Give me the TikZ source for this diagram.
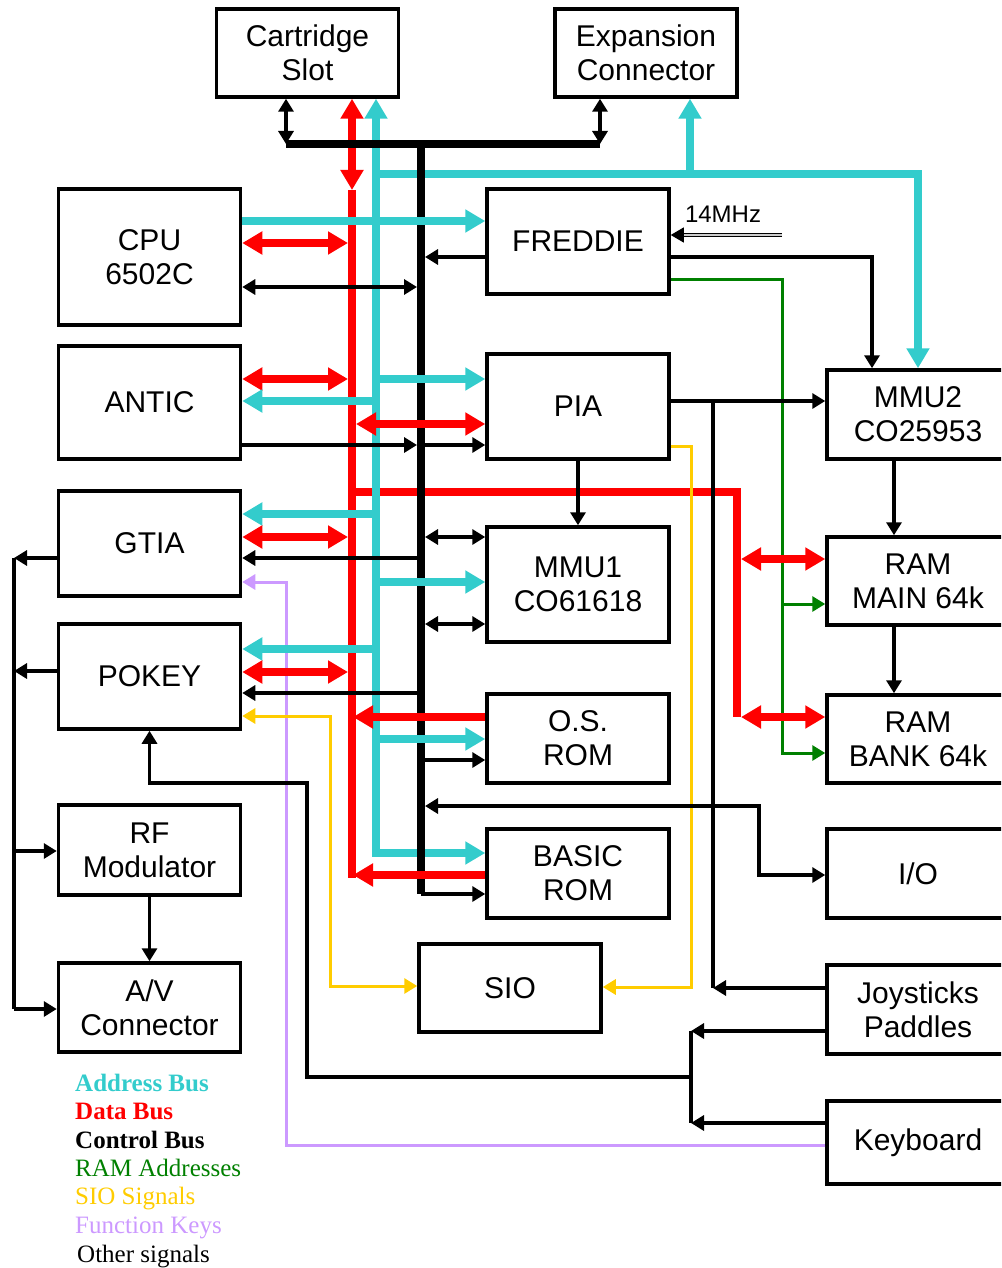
\documentclass[tikz,border=0pt]{standalone}
\usepackage{fontspec}
\setmainfont{Liberation Sans}
\newfontfamily\legendfont{Liberation Serif}
\usetikzlibrary{arrows.meta}
\definecolor{addrcol}{RGB}{51,204,204}
\definecolor{datacol}{RGB}{255,0,0}
\definecolor{ramcol}{RGB}{0,128,0}
\definecolor{siocol}{RGB}{255,204,0}
\definecolor{fkeycol}{RGB}{204,153,255}

\begin{document}
\begin{tikzpicture}[x=1pt, y=-1pt,
	block/.style={draw, line width=3.5pt, minimum width=182pt, inner sep=0pt, align=center, font=\fontsize{30}{34}\selectfont},
	addr/.style={draw=addrcol, line width=8pt}, data/.style={draw=datacol, line width=8pt}, ctrl/.style={draw=black, line width=8pt},
	sig/.style={draw=black, line width=3.5pt}, ramsig/.style={draw=ramcol, line width=3pt},
	siosig/.style={draw=siocol, line width=3pt}, fkeysig/.style={draw=fkeycol, line width=3pt},
	legend/.style={anchor=base west, inner sep=0pt, font=\legendfont\fontsize{25}{28}\selectfont},
	bigtip/.tip={Triangle[length=20pt,width=22pt]}, smtip/.tip={Triangle[length=13pt,width=15pt]}]
	\useasboundingbox (0,0) rectangle (1001,1268);
	\clip (0,0) rectangle (1001,1268);
	\node at (307.5,53) (cart) [block, minimum height=88pt] {Cartridge\\Slot};
	\node at (646,53) (expan) [block, minimum height=88pt] {Expansion\\Connector};
	\node at (149.5,257) (cpu) [block, minimum height=136pt] {CPU\\6502C};
	\node at (149.5,402.5) (antic) [block, minimum height=113pt] {ANTIC};
	\node at (149.5,543.5) (gtia) [block, minimum height=105pt] {GTIA};
	\node at (149.5,676.5) (pokey) [block, minimum height=105pt] {POKEY};
	\node at (149.5,850) (rfmod) [block, minimum height=90pt] {RF\\Modulator};
	\node at (149.5,1007.5) (avcon) [block, minimum height=89pt] {A/V\\Connector};
	\node at (578,241.5) (freddie) [block, minimum height=105pt] {FREDDIE};
	\node at (578,406.5) (pia) [block, minimum height=105pt] {PIA};
	\node at (578,584.5) (mmuone) [block, minimum height=115pt] {MMU1\\CO61618};
	\node at (578,738.5) (osrom) [block, minimum height=89pt] {O.S.\\ROM};
	\node at (578,873.5) (basic) [block, minimum height=89pt] {BASIC\\ROM};
	\node at (510,988) (sio) [block, minimum height=88pt] {SIO};
	\node at (918,414.5) (mmutwo) [block, minimum height=89pt] {MMU2\\CO25953};
	\node at (918,581) (rammain) [block, minimum height=88pt] {RAM\\MAIN 64k};
	\node at (918,739) (rambank) [block, minimum height=88pt] {RAM\\BANK 64k};
	\node at (918,873.5) (io) [block, minimum height=89pt] {I/O};
	\node at (918,1009.5) (joy) [block, minimum height=89pt] {Joysticks\\Paddles};
	\node at (918,1142.5) (kbd) [block, minimum height=83pt] {Keyboard};
	\coordinate (cbarl) at (286,144); \coordinate (cbarr) at (600,144); \coordinate (ctop) at (421,144); \coordinate (cbot) at (421,894);
	\coordinate (dtop) at (352,190); \coordinate (dbot) at (352,878); \coordinate (abot) at (376,853);
	\coordinate (ramsplit) at (737,492); \coordinate (clk) at (782,235);
	\draw[data] (dtop) -- (dbot); \draw[data] (dtop |- ramsplit) -- (ramsplit) -- (737,717);
	\draw[data, {bigtip}-{bigtip}] (cart.south -| dtop) -- (dtop);
	\draw[addr, {bigtip}-{bigtip}] (cart.south -| abot) -- (abot) -- (basic.west |- abot);
	\draw[addr, -{bigtip}] (abot |- 0,174) -- (mmutwo.north |- 0,174) -- (mmutwo.north);
	\draw[addr, -{bigtip}] (690,174) -- (expan.south -| 690,0);
	\draw[ctrl] (ctop) -- (cbot); \draw[ctrl] (cbarl) -- (cbarr);
	\draw[sig, {smtip}-{smtip}] (cart.south -| cbarl) -- (cbarl); \draw[sig, {smtip}-{smtip}] (expan.south -| cbarr) -- (cbarr);
	\draw[sig, -{smtip}] (cbot) -- (basic.west |- cbot);
	\draw[addr, -{bigtip}] (cpu.east |- 0,221) -- (freddie.west |- 0,221);
	\draw[data, {bigtip}-{bigtip}] (cpu.east |- 0,243) -- (348,243);
	\draw[sig, {smtip}-{smtip}] (cpu.east |- 0,287) -- (417,287);
	\draw[sig, -{smtip}] (freddie.west |- 0,257) -- (425,257);
	\draw[line width=1.2pt, double=gray!40, double distance=1.5pt, -{smtip}] (clk) -- (freddie.east |- clk);
	\node at (723,214) (clklabel) [font=\fontsize{24}{27}\selectfont] {14MHz};
	\draw[sig, -{smtip}] (freddie.east |- 0,257) -| ([xshift=-46pt]mmutwo.north);
	\draw[ramsig, -{smtip}] (freddie.east |- 0,279) -- (782,279) -- (782,753) -- (rambank.west |- 0,753);
	\draw[ramsig, -{smtip}] (782,604) -- (rammain.west |- 0,604);
	\draw[data, {bigtip}-{bigtip}] (antic.east |- 0,379) -- (348,379);
	\draw[addr, -{bigtip}] (376,401) -- (antic.east |- 0,401);
	\draw[sig, -{smtip}] (antic.east |- 0,445) -- (417,445); \draw[sig, -{smtip}] (425,445) -- (pia.west |- 0,445);
	\draw[addr, -{bigtip}] (376,379) -- (pia.west |- 0,379);
	\draw[data, {bigtip}-{bigtip}] (356,424) -- (pia.west |- 0,424);
	\draw[sig, -{smtip}] (pia.east |- 0,401) -- (mmutwo.west |- 0,401);
	\draw[sig] (713,401) -- (713,988); \draw[sig, -{smtip}] (joy.west |- 0,988) -- (713,988);
	\draw[sig, -{smtip}] (pia.south) -- (mmuone.north);
	\draw[siosig, -{smtip}] (pia.east |- 0,446) -- (691,446) -- (691,987) -- (sio.east |- 0,987);
	\draw[data, {bigtip}-{bigtip}] (741,559) -- (rammain.west |- 0,559); \draw[data, {bigtip}-{bigtip}] (741,717) -- (rambank.west |- 0,717);
	\draw[sig, -{smtip}] ([xshift=-24pt]mmutwo.south) -- ([xshift=-24pt]rammain.north);
	\draw[sig, -{smtip}] ([xshift=-24pt]rammain.south) -- ([xshift=-24pt]rambank.north);
	\draw[addr, -{bigtip}] (376,514) -- (gtia.east |- 0,514);
	\draw[data, {bigtip}-{bigtip}] (gtia.east |- 0,537) -- (348,537);
	\draw[sig, -{smtip}] (417,558) -- (gtia.east |- 0,558);
	\draw[fkeysig, -{smtip}] (kbd.west |- 0,1145) -- (286,1145) -- (286,582) -- (gtia.east |- 0,582);
	\draw[sig] (14,558) -- (14,1009);
	\draw[sig, -{smtip}] (gtia.west |- 0,558) -- (14,558); \draw[sig, -{smtip}] (pokey.west |- 0,671) -- (14,671);
	\draw[sig, -{smtip}] (14,851) -- (rfmod.west |- 0,851); \draw[sig, -{smtip}] (14,1009) -- (avcon.west |- 0,1009);
	\draw[sig, -{smtip}] (rfmod.south) -- (avcon.north);
	\draw[sig, {smtip}-{smtip}] (425,537) -- (mmuone.west |- 0,537);
	\draw[addr, -{bigtip}] (376,582) -- (mmuone.west |- 0,582);
	\draw[sig, {smtip}-{smtip}] (425,624) -- (mmuone.west |- 0,624);
	\draw[addr, -{bigtip}] (376,649) -- (pokey.east |- 0,649);
	\draw[data, {bigtip}-{bigtip}] (pokey.east |- 0,672) -- (348,672);
	\draw[sig, -{smtip}] (417,693) -- (pokey.east |- 0,693);
	\draw[siosig, {smtip}-{smtip}] (pokey.east |- 0,716) -- (330,716) -- (330,986) -- (sio.west |- 0,986);
	\draw[sig] (691,1031) -- (691,1123);
	\draw[sig, -{smtip}] (691,1077) -- (307,1077) -- (307,783) -- (pokey.south |- 0,783) -- (pokey.south);
	\draw[sig, -{smtip}] (joy.west |- 0,1031) -- (691,1031); \draw[sig, -{smtip}] (kbd.west |- 0,1123) -- (691,1123);
	\draw[data, -{bigtip}] (osrom.west |- 0,717) -- (353,717);
	\draw[addr, -{bigtip}] (376,739) -- (osrom.west |- 0,739);
	\draw[sig, -{smtip}] (425,760) -- (osrom.west |- 0,760);
	\draw[sig, {smtip}-{smtip}] (425,806) -- (759,806) -- (759,875) -- (io.west |- 0,875);
	\draw[data, -{bigtip}] (basic.west |- 0,875) -- (353,875);
	\node at (75,1091) (lgaddr) [legend, text=addrcol] {\bfseries Address Bus};
	\node at (75,1119) (lgdata) [legend, text=datacol] {\bfseries Data Bus};
	\node at (75,1148) (lgctrl) [legend, text=black] {\bfseries Control Bus};
	\node at (75,1176) (lgram) [legend, text=ramcol] {RAM Addresses};
	\node at (75,1204) (lgsio) [legend, text=siocol] {SIO Signals};
	\node at (75,1233) (lgfkey) [legend, text=fkeycol] {Function Keys};
	\node at (77,1262) (lgother) [legend, text=black] {Other signals};
\end{tikzpicture}
\end{document}
